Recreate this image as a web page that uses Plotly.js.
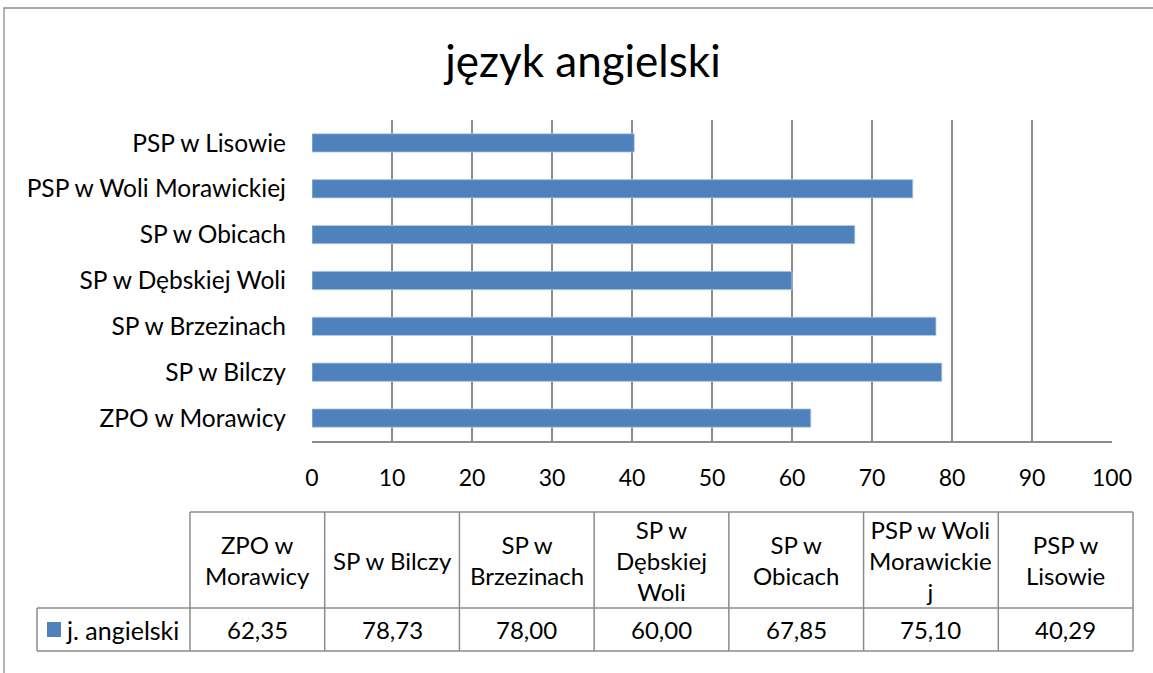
<!DOCTYPE html>
<html>
<head>
<meta charset="utf-8">
<script src="https://cdn.plot.ly/plotly-3.0.1.min.js"></script>
<style>
html,body{margin:0;padding:0;background:#fff;}
#chart{width:1153px;height:673px;}
</style>
</head>
<body>
<div id="chart"></div>
<script>
// ---- data ----
var categories = ["ZPO w Morawicy","SP w Bilczy","SP w Brzezinach","SP w Dębskiej Woli","SP w Obicach","PSP w Woli Morawickiej","PSP w Lisowie"];
var values = [62.35, 78.73, 78.00, 60.00, 67.85, 75.10, 40.29];
var tableHeaders = ["ZPO w<br>Morawicy","SP w Bilczy","SP w<br>Brzezinach","SP w<br>Dębskiej<br>Woli","SP w<br>Obicach","PSP w Woli<br>Morawickie<br>j","PSP w<br>Lisowie"];
var tableValues = ["62,35","78,73","78,00","60,00","67,85","75,10","40,29"];
var seriesName = "j. angielski";
var titleText = "język angielski";
var xTicks = [0,10,20,30,40,50,60,70,80,90,100];

// ---- layout helpers (pixel -> paper) ----
var W = 1153, H = 673;
function px(x){ return x / W; }
function py(y){ return 1 - y / H; }

var FONT = "Lato, 'Open Sans', sans-serif";
var barColor = "#4F81BD";
var gridColor = "#8C8C8C";

var shapes = [];
var annotations = [];

// outer chart border
shapes.push({type:"rect", xref:"paper", yref:"paper", x0:px(4), x1:px(1160), y0:py(8), y1:py(690),
  line:{color:"#8C8C8C", width:1.3}, fillcolor:"rgba(0,0,0,0)"});

// data table
var colLeft = 190, colRight = 1133, legendLeft = 37;
var rowTop = 512, rowMid = 608, rowBot = 651;
var nCols = tableHeaders.length;
var colW = (colRight - colLeft) / nCols;
var tl = {color:gridColor, width:1.5};
var tFont = {family:FONT, size:24, color:"#000"};
function hline(x0,x1,y){ shapes.push({type:"line", xref:"paper", yref:"paper", x0:px(x0), x1:px(x1), y0:py(y), y1:py(y), line:tl}); }
function vline(x,y0,y1){ shapes.push({type:"line", xref:"paper", yref:"paper", x0:px(x), x1:px(x), y0:py(y0), y1:py(y1), line:tl}); }
hline(colLeft, colRight, rowTop);
hline(legendLeft, colRight, rowMid);
hline(legendLeft, colRight, rowBot);
vline(legendLeft, rowMid, rowBot);
for (var i = 0; i <= nCols; i++) vline(colLeft + i*colW, rowTop, rowBot);
for (var i = 0; i < nCols; i++) {
  var cx = colLeft + (i + 0.5) * colW;
  annotations.push({xref:"paper", yref:"paper", x:px(cx), y:py((rowTop+rowMid)/2), text:tableHeaders[i],
    showarrow:false, xanchor:"center", yanchor:"middle", align:"center", font:tFont});
  annotations.push({xref:"paper", yref:"paper", x:px(cx), y:py((rowMid+rowBot)/2), text:tableValues[i],
    showarrow:false, xanchor:"center", yanchor:"middle", align:"center", font:tFont});
}
// legend key in table
shapes.push({type:"rect", xref:"paper", yref:"paper", x0:px(47), x1:px(61), y0:py(622), y1:py(637),
  fillcolor:barColor, line:{width:0}});
annotations.push({xref:"paper", yref:"paper", x:px(64), y:py((rowMid+rowBot)/2), text:seriesName,
  showarrow:false, xanchor:"left", yanchor:"middle", font:{family:FONT, size:25, color:"#000"}});

var trace = {
  type:"bar", orientation:"h", y:categories, x:values, name:seriesName,
  marker:{color:barColor, line:{color:"#B9CDE5", width:0.8}},
  hoverinfo:"x+y"
};

var layout = {
  width:W, height:H,
  margin:{l:0, r:0, t:0, b:0},
  paper_bgcolor:"#fff", plot_bgcolor:"#fff",
  showlegend:false,
  bargap:0.6,
  title:{text:titleText, font:{family:FONT, size:44, color:"#000"}, x:px(583), xanchor:"center", y:py(62), yanchor:"middle"},
  xaxis:{domain:[px(312), px(1112)], range:[0,100], tickvals:xTicks, ticktext:xTicks.map(String),
    showgrid:true, gridcolor:gridColor, gridwidth:1.5, zeroline:false,
    showline:true, linecolor:gridColor, linewidth:1.5, ticks:"", ticklabelstandoff:16,
    tickfont:{family:FONT, size:23, color:"#000"}, fixedrange:true},
  yaxis:{domain:[py(441), py(120)], type:"category", showgrid:false, zeroline:false,
    showline:false, ticks:"", ticklabelstandoff:25,
    tickfont:{family:FONT, size:24.5, color:"#000"}, fixedrange:true},
  shapes:shapes,
  annotations:annotations
};

Plotly.newPlot("chart", [trace], layout, {displayModeBar:false, staticPlot:true});
</script>
</body>
</html>
